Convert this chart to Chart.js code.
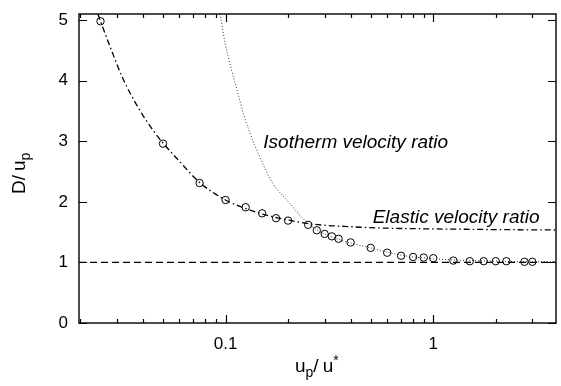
<!DOCTYPE html>
<html>
<head>
<meta charset="utf-8">
<script src="https://cdn.jsdelivr.net/npm/chart.js@4/dist/chart.umd.min.js"></script>
<style>
  html, body { margin: 0; padding: 0; background: #fff; }
  #wrap { width: 561px; height: 386px; }
</style>
</head>
<body>
<div id="wrap"><canvas id="chart" width="561" height="386"></canvas></div>
<script>
// --- Data ---

// measured points (circles)
const upRatio = [0.025, 0.05, 0.075, 0.1, 0.125, 0.15, 0.175, 0.2, 0.25, 0.275, 0.3, 0.325, 0.35, 0.4,
  0.5, 0.6, 0.7, 0.8, 0.9, 1.0, 1.25, 1.5, 1.75, 2.0, 2.25, 2.75, 3.0];
const dRatio = [4.98, 2.96, 2.31, 2.03, 1.91, 1.81, 1.73, 1.69, 1.62, 1.53, 1.47, 1.43, 1.39, 1.33,
  1.24, 1.16, 1.11, 1.09, 1.08, 1.07, 1.03, 1.02, 1.02, 1.02, 1.02, 1.01, 1.01];

// elastic velocity ratio (dash-dot curve)
const elasticX = [0.0243, 0.025, 0.0284, 0.0317, 0.0354, 0.0403, 0.045, 0.05, 0.0592, 0.075, 0.1,
  0.125, 0.15, 0.175, 0.2, 0.25, 0.31, 0.373, 0.45, 0.6, 1, 2, 4];
const elasticY = [5.1, 4.98, 4.48, 4.07, 3.74, 3.41, 3.17, 2.97, 2.69, 2.32, 2.03,
  1.89, 1.80, 1.74, 1.70, 1.64, 1.61, 1.595, 1.58, 1.565, 1.553, 1.542, 1.535];

// isotherm velocity ratio (dotted curve)
const isoX = [0.094, 0.0995, 0.1057, 0.1136, 0.1223, 0.135, 0.147, 0.167, 0.2006, 0.245, 0.275, 0.3,
  0.35, 0.4, 0.5, 0.6, 0.7, 0.8, 0.9, 1, 1.25, 1.5, 2, 3, 4];
const isoY = [5.1, 4.62, 4.24, 3.85, 3.44, 3.02, 2.72, 2.33, 2.00, 1.67, 1.54, 1.47,
  1.38, 1.32, 1.24, 1.17, 1.12, 1.09, 1.075, 1.06, 1.04, 1.03, 1.02, 1.01, 1.01];

// reference line D/up = 1
const refX = [0.0197, 4];
const refY = [1, 1];

// axes
const xRange = [0.0197, 3.9];
const yRange = [0, 5.1];
const xTicks = [0.02, 0.03, 0.04, 0.05, 0.06, 0.07, 0.08, 0.09, 0.1,
  0.2, 0.3, 0.4, 0.5, 0.6, 0.7, 0.8, 0.9, 1, 2, 3];
const xMajor = [0.1, 1];
const yTicks = [0, 1, 2, 3, 4, 5];

// curve labels: [text, x, y] (left / baseline in data units)
const curveLabels = [
  ["Isotherm velocity ratio", 0.152, 2.89],
  ["Elastic velocity ratio", 0.511, 1.65]
];

const FONT = "'Liberation Sans', Arial, Helvetica, sans-serif";
const pts = (xs, ys) => xs.map((x, i) => ({ x: x, y: ys[i] }));

// inward ticks, frame, axis titles and curve labels
const framePlugin = {
  id: "frame",
  afterDraw(chart) {
    const { ctx, chartArea: a, scales } = chart;
    const xs = scales.x, ys = scales.y;
    ctx.save();
    ctx.strokeStyle = "#000";
    ctx.lineWidth = 1.2;
    ctx.beginPath();
    xs.ticks.forEach(t => {
      const px = Math.round(xs.getPixelForValue(t.value)) + 0.5;
      const len = xMajor.includes(t.value) ? 8 : 4;
      ctx.moveTo(px, a.bottom); ctx.lineTo(px, a.bottom - len);
      ctx.moveTo(px, a.top); ctx.lineTo(px, a.top + len);
    });
    ys.ticks.forEach(t => {
      const py = Math.round(ys.getPixelForValue(t.value)) + 0.5;
      ctx.moveTo(a.left, py); ctx.lineTo(a.left + 8, py);
      ctx.moveTo(a.right, py); ctx.lineTo(a.right - 8, py);
    });
    ctx.stroke();
    ctx.lineWidth = 1.4;
    ctx.strokeRect(a.left, a.top, a.right - a.left, a.bottom - a.top);

    ctx.fillStyle = "#000";
    ctx.textAlign = "left";
    ctx.textBaseline = "alphabetic";

    // curve labels
    ctx.font = "italic 19px " + FONT;
    curveLabels.forEach(([txt, x, y]) => {
      ctx.fillText(txt, xs.getPixelForValue(x), ys.getPixelForValue(y));
    });

    // x title: u_p / u*
    let cx = 295;
    const by = 372;
    ctx.font = "19px " + FONT;
    ctx.fillText("u", cx, by); cx += ctx.measureText("u").width;
    ctx.font = "14px " + FONT;
    ctx.fillText("p", cx, by + 5); cx += ctx.measureText("p").width;
    ctx.font = "19px " + FONT;
    ctx.fillText("/", cx, by); cx += ctx.measureText("/").width + 4;
    ctx.fillText("u", cx, by); cx += ctx.measureText("u").width;
    ctx.font = "14px " + FONT;
    ctx.fillText("*", cx, by - 7);

    // y title: D / u_p (rotated)
    ctx.translate(25, 194);
    ctx.rotate(-Math.PI / 2);
    let ty = 0;
    ctx.font = "19px " + FONT;
    ctx.fillText("D", ty, 0); ty += ctx.measureText("D").width;
    ctx.fillText("/", ty, 0); ty += ctx.measureText("/").width + 4;
    ctx.fillText("u", ty, 0); ty += ctx.measureText("u").width;
    ctx.font = "14px " + FONT;
    ctx.fillText("p", ty, 5);
    ctx.restore();
  }
};

// tick marks of the library are hidden; their length only spaces the labels
const hiddenGrid = {
  display: true,
  drawOnChartArea: false,
  drawTicks: true,
  tickLength: 11,
  tickColor: "rgba(0,0,0,0)"
};

new Chart(document.getElementById("chart"), {
  type: "line",
  data: {
    datasets: [
      {
        label: "D/up = 1",
        data: pts(refX, refY),
        borderColor: "#000",
        borderWidth: 1.3,
        borderDash: [7, 4],
        pointRadius: 0
      },
      {
        label: "Isotherm velocity ratio",
        data: pts(isoX, isoY),
        borderColor: "#333",
        borderWidth: 1,
        borderDash: [1, 2],
        pointRadius: 0,
        cubicInterpolationMode: "monotone"
      },
      {
        label: "Elastic velocity ratio",
        data: pts(elasticX, elasticY),
        borderColor: "#000",
        borderWidth: 1.3,
        borderDash: [6, 3, 1.5, 3],
        pointRadius: 0,
        cubicInterpolationMode: "monotone"
      },
      {
        label: "Measured",
        data: pts(upRatio, dRatio),
        showLine: false,
        pointStyle: "circle",
        pointRadius: 3.7,
        pointBorderWidth: 1,
        pointBorderColor: "#000",
        pointBackgroundColor: "rgba(0,0,0,0)"
      }
    ]
  },
  options: {
    responsive: false,
    animation: false,
    clip: 0,
    layout: { padding: { top: 14, right: 1, left: 0, bottom: 0 } },
    plugins: {
      legend: { display: false },
      tooltip: { enabled: false }
    },
    scales: {
      x: {
        type: "logarithmic",
        min: xRange[0],
        max: xRange[1],
        grid: hiddenGrid,
        border: { display: false },
        afterBuildTicks: (scale) => {
          scale.ticks = xTicks.map(v => ({ value: v }));
        },
        afterFit: (scale) => {
          scale.height = 63;
          scale.paddingLeft = 0;
          scale.paddingRight = 0;
        },
        ticks: {
          autoSkip: false,
          maxRotation: 0,
          padding: 0,
          color: "#000",
          font: { family: FONT, size: 17 },
          callback: (v) => xMajor.includes(v) ? String(v) : ""
        }
      },
      y: {
        type: "linear",
        min: yRange[0],
        max: yRange[1],
        grid: hiddenGrid,
        border: { display: false },
        afterBuildTicks: (scale) => {
          scale.ticks = yTicks.map(v => ({ value: v }));
        },
        afterFit: (scale) => {
          scale.width = 79;
          scale.paddingTop = 0;
          scale.paddingBottom = 0;
        },
        ticks: {
          padding: 0,
          color: "#000",
          font: { family: FONT, size: 17 },
          callback: (v) => String(v)
        }
      }
    }
  },
  plugins: [framePlugin]
});
</script>
</body>
</html>
